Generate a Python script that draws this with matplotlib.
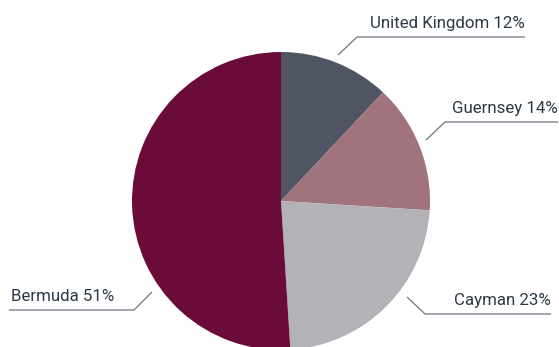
import matplotlib
matplotlib.use('Agg')
import matplotlib.pyplot as plt

# Data
labels = ['United Kingdom', 'Guernsey', 'Cayman', 'Bermuda']
shares = [12, 14, 23, 51]
colors = ['#4f5562', '#a1737d', '#b3b2b7', '#6a0b39']

W, H = 559, 347
TEXT = '#2d3a45'
LINE = '#6b7580'

fig = plt.figure(figsize=(W / 100, H / 100), dpi=100)
ax = fig.add_axes([0, 0, 1, 1])

ax.pie(shares, colors=colors, startangle=90, counterclock=False,
       center=(281, H - 201), radius=149,
       wedgeprops=dict(linewidth=0))

# leader layout (pixel coords from top): start of diagonal, elbow, end of underline, text side
leaders = [
    ((338, 55), (357, 37), 525, 'right'),
    ((426, 140), (445, 122), 558, 'right'),
    ((407, 297), (425, 314), 551, 'right'),
    ((152, 292), (134, 310), 9, 'left'),
]

for lab, val, (p0, p1, xend, side) in zip(labels, shares, leaders):
    xs = [p0[0], p1[0], xend]
    ys = [H - p0[1], H - p1[1], H - p1[1]]
    ax.plot(xs, ys, color=LINE, lw=0.9, solid_capstyle='butt')
    if side == 'right':
        ax.text(xend, H - p1[1] + 9, f'{lab} {val}%', ha='right', va='baseline',
                color=TEXT, fontsize=12.2, family='Roboto')
    else:
        ax.text(xend + 2, H - p1[1] + 9, f'{lab} {val}%', ha='left', va='baseline',
                color=TEXT, fontsize=12.2, family='Roboto')

ax.set_xlim(0, W)
ax.set_ylim(0, H)
ax.set_aspect('equal')
ax.axis('off')

fig.savefig('out.png', dpi=100)
